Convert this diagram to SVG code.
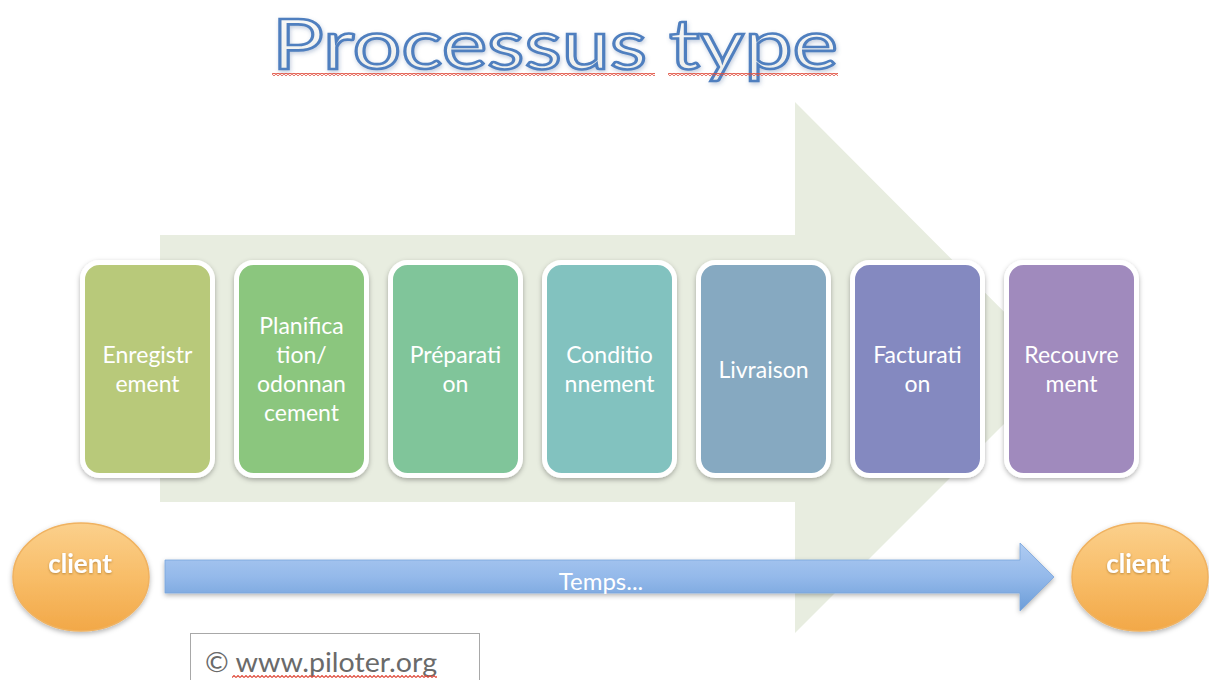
<svg xmlns="http://www.w3.org/2000/svg" width="1209" height="680" viewBox="0 0 1209 680">
<defs>
<style>
.box{stroke:#ffffff;stroke-width:5;filter:url(#sh)}
.lbl{font-family:"Lato","Open Sans","Liberation Sans",sans-serif;font-size:23px;fill:#ffffff;text-anchor:middle}
.cl{font-family:"Lato","Open Sans","Liberation Sans",sans-serif;font-size:26px;font-weight:bold;fill:#ffffff;text-anchor:middle;filter:url(#tsh)}
.ell{fill:url(#og);stroke:#f0b260;stroke-width:1.5;filter:url(#sh)}
</style>
<filter id="sh" x="-20%" y="-20%" width="140%" height="140%">
<feDropShadow dx="0" dy="2" stdDeviation="2.5" flood-color="#000" flood-opacity="0.3"/>
</filter>
<filter id="tsh" x="-20%" y="-30%" width="140%" height="160%">
<feDropShadow dx="0" dy="1" stdDeviation="1" flood-color="#7a5010" flood-opacity="0.5"/>
</filter>
<filter id="ttl" x="-5%" y="-20%" width="110%" height="140%">
<feDropShadow dx="1" dy="2" stdDeviation="2" flood-color="#5070a0" flood-opacity="0.35"/>
</filter>
<linearGradient id="bg" x1="0" y1="0" x2="0" y2="1">
<stop offset="0" stop-color="#aecbf2"/>
<stop offset="0.5" stop-color="#94b9ea"/>
<stop offset="1" stop-color="#6c9dd8"/>
</linearGradient>
<linearGradient id="og" x1="0" y1="0" x2="0" y2="1">
<stop offset="0" stop-color="#fbd08c"/>
<stop offset="0.5" stop-color="#f8bd68"/>
<stop offset="1" stop-color="#f2a848"/>
</linearGradient>
<linearGradient id="tg" x1="0" y1="0" x2="0" y2="1">
<stop offset="0" stop-color="#fbfbfa"/>
<stop offset="1" stop-color="#ecedea"/>
</linearGradient>
<pattern id="wave" x="0" y="0" width="4" height="3" patternUnits="userSpaceOnUse">
<path d="M0,2.5 L2,0.5 L4,2.5" fill="none" stroke="#e04a3a" stroke-width="1.1"/>
</pattern>
</defs>
<rect width="1209" height="680" fill="#ffffff"/>

<g id="title">
<text x="272" y="69" font-family="Lato,'Open Sans','Liberation Sans',sans-serif" font-size="70" textLength="566" lengthAdjust="spacingAndGlyphs" fill="url(#tg)" stroke="#4f7fbf" stroke-width="2.6" filter="url(#ttl)">Processus type</text>
<rect x="272" y="73" width="383" height="3" fill="url(#wave)"/>
<rect x="668" y="73" width="170" height="3" fill="url(#wave)"/>
</g>

<g id="big-arrow">
<path d="M160,235 L795,235 L795,102 L1060,368 L795,633 L795,502 L160,502 Z" fill="#e8ede0"/>
</g>

<g id="n1">
<rect class="box" x="82.5" y="262.5" width="130" height="213" rx="17" fill="#b8c97a"/>
<text class="lbl" x="147.5" y="363">Enregistr</text>
<text class="lbl" x="147.5" y="392">ement</text>
</g>
<g id="n2">
<rect class="box" x="236.5" y="262.5" width="130" height="213" rx="17" fill="#8bc67e"/>
<text class="lbl" x="301.5" y="334">Planifica</text>
<text class="lbl" x="301.5" y="363">tion/</text>
<text class="lbl" x="301.5" y="392">odonnan</text>
<text class="lbl" x="301.5" y="421">cement</text>
</g>
<g id="n3">
<rect class="box" x="390.5" y="262.5" width="130" height="213" rx="17" fill="#80c59a"/>
<text class="lbl" x="455.5" y="363">Préparati</text>
<text class="lbl" x="455.5" y="392">on</text>
</g>
<g id="n4">
<rect class="box" x="544.5" y="262.5" width="130" height="213" rx="17" fill="#82c2bf"/>
<text class="lbl" x="609.5" y="363">Conditio</text>
<text class="lbl" x="609.5" y="392">nnement</text>
</g>
<g id="n5">
<rect class="box" x="698.5" y="262.5" width="130" height="213" rx="17" fill="#86a9c1"/>
<text class="lbl" x="763.5" y="378">Livraison</text>
</g>
<g id="n6">
<rect class="box" x="852.5" y="262.5" width="130" height="213" rx="17" fill="#8489c0"/>
<text class="lbl" x="917.5" y="363">Facturati</text>
<text class="lbl" x="917.5" y="392">on</text>
</g>
<g id="n7">
<rect class="box" x="1006.5" y="262.5" width="130" height="213" rx="17" fill="#a08abd"/>
<text class="lbl" x="1071.5" y="363">Recouvre</text>
<text class="lbl" x="1071.5" y="392">ment</text>
</g>

<g id="connectors">
<path d="M165,560 L1020,560 L1020,543 L1054,577 L1020,611 L1020,593 L165,593 Z" fill="url(#bg)" stroke="#7aa5dc" stroke-width="0.8" filter="url(#sh)"/>
<text class="lbl" x="601" y="590" style="font-size:24px">Temps...</text>
</g>

<g id="client-left">
<ellipse class="ell" cx="81" cy="577" rx="68" ry="54"/>
<text class="cl" x="80" y="573">client</text>
</g>
<g id="client-right">
<ellipse class="ell" cx="1140" cy="577" rx="68" ry="54"/>
<text class="cl" x="1138" y="573">client</text>
</g>

<g id="copyright">
<rect x="190.5" y="633.5" width="289" height="60" fill="#ffffff" stroke="#a8a8a8" stroke-width="1"/>
<text x="205" y="672" font-family="Lato,'Open Sans','Liberation Sans',sans-serif" font-size="26" textLength="232" lengthAdjust="spacingAndGlyphs" fill="#6a6a6a">© www.piloter.org</text>
<rect x="232" y="675" width="205" height="3" fill="url(#wave)"/>
</g>
</svg>
